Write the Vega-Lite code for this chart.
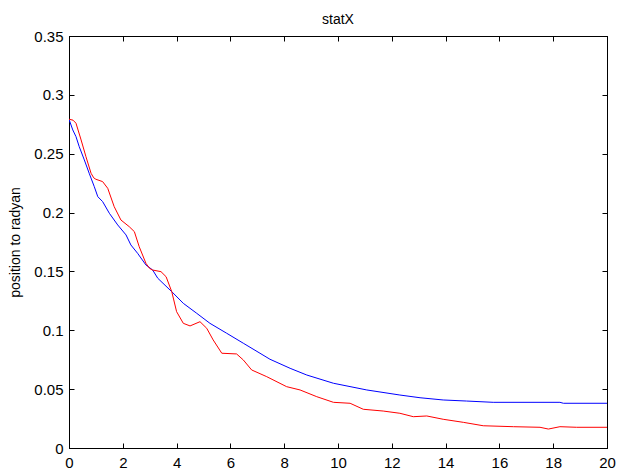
{
  "$schema": "https://vega.github.io/schema/vega-lite/v6.json",
  "width": 538,
  "height": 412,
  "autosize": {"type": "none"},
  "padding": {"left": 69, "top": 36, "right": 11, "bottom": 25},
  "background": "white",
  "title": {"text": "statX", "fontSize": 14, "font": "Liberation Sans", "fontWeight": "normal", "color": "black", "offset": 2},
  "config": {
    "view": {"stroke": "black", "strokeWidth": 1},
    "axis": {
      "grid": false,
      "domainColor": "black",
      "tickColor": "black",
      "labelColor": "black",
      "labelFont": "Liberation Sans",
      "labelFontSize": 15,
      "titleFont": "Liberation Sans",
      "titleFontWeight": "normal",
      "titleFontSize": 14,
      "titleColor": "black",
      "tickSize": -5
    }
  },
  "data": {
    "values": [
      {"series": "blue", "t": 0, "v": 0.2793},
      {"series": "blue", "t": 0.14, "v": 0.2702},
      {"series": "blue", "t": 0.26, "v": 0.2645},
      {"series": "blue", "t": 0.38, "v": 0.256},
      {"series": "blue", "t": 0.57, "v": 0.2447},
      {"series": "blue", "t": 0.75, "v": 0.2334},
      {"series": "blue", "t": 0.94, "v": 0.222},
      {"series": "blue", "t": 1.07, "v": 0.2135},
      {"series": "blue", "t": 1.25, "v": 0.2093},
      {"series": "blue", "t": 1.5, "v": 0.1994},
      {"series": "blue", "t": 1.81, "v": 0.1895},
      {"series": "blue", "t": 2.12, "v": 0.181},
      {"series": "blue", "t": 2.3, "v": 0.1725},
      {"series": "blue", "t": 2.55, "v": 0.1654},
      {"series": "blue", "t": 2.86, "v": 0.1555},
      {"series": "blue", "t": 3.11, "v": 0.1512},
      {"series": "blue", "t": 3.3, "v": 0.1442},
      {"series": "blue", "t": 3.82, "v": 0.1328},
      {"series": "blue", "t": 4.25, "v": 0.1229},
      {"series": "blue", "t": 4.75, "v": 0.1144},
      {"series": "blue", "t": 5.24, "v": 0.1059},
      {"series": "blue", "t": 5.86, "v": 0.0975},
      {"series": "blue", "t": 6.48, "v": 0.089},
      {"series": "blue", "t": 7.1, "v": 0.0805},
      {"series": "blue", "t": 7.47, "v": 0.0754},
      {"series": "blue", "t": 8.22, "v": 0.0677},
      {"series": "blue", "t": 8.84, "v": 0.062},
      {"series": "blue", "t": 9.83, "v": 0.055},
      {"series": "blue", "t": 11.07, "v": 0.0493},
      {"series": "blue", "t": 12.3, "v": 0.045},
      {"series": "blue", "t": 13.05, "v": 0.0427},
      {"series": "blue", "t": 13.91, "v": 0.0408},
      {"series": "blue", "t": 14.78, "v": 0.0399},
      {"series": "blue", "t": 15.77, "v": 0.0388},
      {"series": "blue", "t": 18.25, "v": 0.0388},
      {"series": "blue", "t": 18.38, "v": 0.038},
      {"series": "blue", "t": 20, "v": 0.038},
      {"series": "red", "t": 0, "v": 0.2793},
      {"series": "red", "t": 0.15, "v": 0.2785},
      {"series": "red", "t": 0.26, "v": 0.2759},
      {"series": "red", "t": 0.45, "v": 0.2617},
      {"series": "red", "t": 0.63, "v": 0.2475},
      {"series": "red", "t": 0.82, "v": 0.2334},
      {"series": "red", "t": 0.92, "v": 0.2295},
      {"series": "red", "t": 1.0, "v": 0.2283},
      {"series": "red", "t": 1.25, "v": 0.2263},
      {"series": "red", "t": 1.44, "v": 0.2206},
      {"series": "red", "t": 1.68, "v": 0.205},
      {"series": "red", "t": 1.93, "v": 0.1937},
      {"series": "red", "t": 2.24, "v": 0.188},
      {"series": "red", "t": 2.43, "v": 0.1838},
      {"series": "red", "t": 2.61, "v": 0.171},
      {"series": "red", "t": 2.86, "v": 0.1569},
      {"series": "red", "t": 3.0, "v": 0.1525},
      {"series": "red", "t": 3.11, "v": 0.1512},
      {"series": "red", "t": 3.42, "v": 0.1498},
      {"series": "red", "t": 3.61, "v": 0.1455},
      {"series": "red", "t": 3.82, "v": 0.1328},
      {"series": "red", "t": 4.0, "v": 0.1158},
      {"series": "red", "t": 4.25, "v": 0.1059},
      {"series": "red", "t": 4.5, "v": 0.1037},
      {"series": "red", "t": 4.87, "v": 0.1073},
      {"series": "red", "t": 5.12, "v": 0.1017},
      {"series": "red", "t": 5.36, "v": 0.0918},
      {"series": "red", "t": 5.68, "v": 0.0805},
      {"series": "red", "t": 6.23, "v": 0.0799},
      {"series": "red", "t": 6.48, "v": 0.0748},
      {"series": "red", "t": 6.79, "v": 0.0663},
      {"series": "red", "t": 7.35, "v": 0.0606},
      {"series": "red", "t": 8.09, "v": 0.0521},
      {"series": "red", "t": 8.59, "v": 0.0493},
      {"series": "red", "t": 9.21, "v": 0.0436},
      {"series": "red", "t": 9.83, "v": 0.0388},
      {"series": "red", "t": 10.45, "v": 0.038},
      {"series": "red", "t": 10.94, "v": 0.0329},
      {"series": "red", "t": 11.68, "v": 0.0314},
      {"series": "red", "t": 12.3, "v": 0.0295},
      {"series": "red", "t": 12.8, "v": 0.0266},
      {"series": "red", "t": 13.3, "v": 0.0272},
      {"series": "red", "t": 13.91, "v": 0.0244},
      {"series": "red", "t": 14.66, "v": 0.0218},
      {"series": "red", "t": 15.4, "v": 0.0189},
      {"series": "red", "t": 16.52, "v": 0.0181},
      {"series": "red", "t": 17.51, "v": 0.0176},
      {"series": "red", "t": 17.82, "v": 0.0161},
      {"series": "red", "t": 18.25, "v": 0.0181},
      {"series": "red", "t": 18.87, "v": 0.0176},
      {"series": "red", "t": 20, "v": 0.0176}
    ]
  },
  "layer": [
    {
      "mark": {"type": "line", "strokeWidth": 1, "clip": true},
      "encoding": {
        "x": {
          "field": "t", "type": "quantitative",
          "scale": {"domain": [0, 20], "nice": false, "zero": false},
          "axis": {"orient": "bottom", "values": [0, 2, 4, 6, 8, 10, 12, 14, 16, 18, 20], "title": null, "labelPadding": 12, "format": "d", "labelFlush": false}
        },
        "y": {
          "field": "v", "type": "quantitative",
          "scale": {"domain": [0, 0.35], "nice": false},
          "axis": {"orient": "left", "values": [0, 0.05, 0.1, 0.15, 0.2, 0.25, 0.3, 0.35], "format": ".2~f", "title": "position to radyan", "labelPadding": 11, "titlePadding": 11}
        },
        "color": {
          "field": "series", "type": "nominal",
          "scale": {"domain": ["blue", "red"], "range": ["#0000ff", "#ff0000"]},
          "legend": null
        },
        "order": {"field": "t", "type": "quantitative"}
      }
    },
    {
      "mark": {"type": "point", "opacity": 0},
      "encoding": {
        "x": {
          "field": "t", "type": "quantitative",
          "axis": {"orient": "top", "values": [0, 2, 4, 6, 8, 10, 12, 14, 16, 18, 20], "labels": false, "title": null}
        },
        "y": {
          "field": "v", "type": "quantitative",
          "axis": {"orient": "right", "values": [0, 0.05, 0.1, 0.15, 0.2, 0.25, 0.3, 0.35], "labels": false, "title": null}
        }
      }
    }
  ],
  "resolve": {"axis": {"x": "independent", "y": "independent"}}
}
